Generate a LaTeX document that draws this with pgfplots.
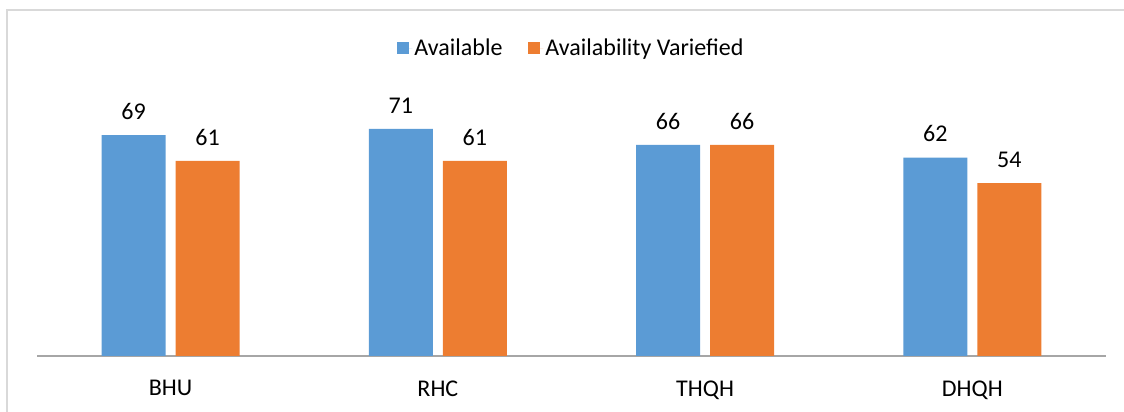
\documentclass[border=0pt]{standalone}
\usepackage{fontspec}
\setmainfont{Carlito}
\usepackage{pgfplots}
\pgfplotsset{compat=1.18}
\definecolor{cblue}{HTML}{5B9BD5}
\definecolor{corange}{HTML}{ED7D31}
\definecolor{axgray}{HTML}{A6A6A6}
\definecolor{frame}{HTML}{D9D9D9}
\begin{document}
\begin{tikzpicture}[x=1pt,y=1pt]
\useasboundingbox (-37,-56) rectangle (1087,356);
\draw[frame, line width=1.5pt] (-30,-60) -- (-30,346) -- (1090,346);
\begin{axis}[
  at={(0,0)}, anchor=south west,
  scale only axis,
  width=1069pt, height=256pt,
  xmin=-0.5, xmax=3.5, ymin=0, ymax=80,
  ybar=10pt, bar width=64pt,
  axis y line=none,
  axis x line*=bottom,
  x axis line style={axgray, line width=1.2pt},
  xtick={0,1,2,3},
  xticklabels={BHU,RHC,THQH,DHQH},
  major tick length=0pt,
  /pgf/number format/assume math mode=true,
  xticklabel style={font=\fontsize{24}{28}\selectfont, text=black, anchor=north, yshift=-21pt},
  nodes near coords,
  nodes near coords style={font=\fontsize{24}{28}\selectfont, text=black, anchor=south, yshift=12pt},
  legend style={at={(0.5,1.203)}, anchor=center, draw=none, fill=none,
    font=\fontsize{24}{28}\selectfont, legend columns=2,
    /tikz/every even column/.append style={column sep=24pt},
    /tikz/every odd column/.append style={column sep=0pt}},
  legend image code/.code={\fill[#1] (0pt,-6pt) rectangle (12pt,6pt); \path (0pt,0pt) -- (15pt,0pt);},
  clip=false,
]
\addplot[fill=cblue, draw=none] coordinates {(0,69) (1,71) (2,66) (3,62)};
\addplot[fill=corange, draw=none] coordinates {(0,61) (1,61) (2,66) (3,54)};
\legend{Available, Availability Variefied}
\end{axis}
\end{tikzpicture}
\end{document}
